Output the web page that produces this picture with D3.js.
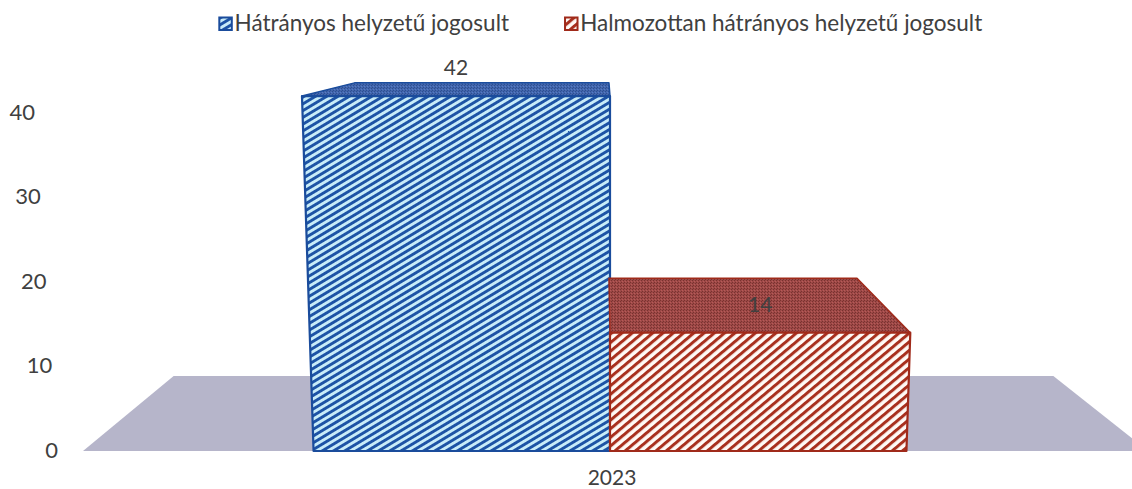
<!DOCTYPE html>
<html>
<head>
<meta charset="utf-8">
<script src="https://cdn.jsdelivr.net/npm/d3@7"></script>
<style>
    html, body { margin: 0; padding: 0; background: #ffffff; }
    svg { display: block; }
    text { font-family: Lato, "Open Sans", sans-serif; fill: #404040; }
</style>
</head>
<body>
<svg id="chart" width="1132" height="489"></svg>
<script>
'use strict';

/* global d3 */

var categories = ["2023"];
var seriesNames = ["Hátrányos helyzetű jogosult", "Halmozottan hátrányos helyzetű jogosult"];
var seriesValues = [[42], [14]];
var yTicks = [0, 10, 20, 30, 40];

var svg = d3.select("#chart");
var defs = svg.append("defs");

// colours for each series: stripe, background, top face, edge
var STYLES = [
    {id: "s0", stripe: "#1d53a5", light: "#c8ecf9", top: "#4466aa", topDark: "#2a4e96", edge: "#1a4c9c", angle: -31, period: 5.8, thick: 2.9},
    {id: "s1", stripe: "#a8301e", light: "#fffaf6", top: "#9c4a48", topDark: "#7c302e", edge: "#a02a1a", angle: -40, period: 6.6, thick: 3.0}
];

STYLES.forEach(function (st) {
    var p = defs.append("pattern")
        .attr("id", "stripe-" + st.id)
        .attr("patternUnits", "userSpaceOnUse")
        .attr("width", 10)
        .attr("height", st.period)
        .attr("patternTransform", "rotate(" + st.angle + ")");
    p.append("rect").attr("width", 10).attr("height", st.period).attr("fill", st.light);
    p.append("rect").attr("width", 10).attr("height", st.thick).attr("fill", st.stripe);

    var t = defs.append("pattern")
        .attr("id", "top-" + st.id)
        .attr("patternUnits", "userSpaceOnUse")
        .attr("width", 3)
        .attr("height", 3);
    t.append("rect").attr("width", 3).attr("height", 3).attr("fill", st.top);
    t.append("rect").attr("x", 0).attr("y", 0).attr("width", 1).attr("height", 1).attr("fill", st.topDark);
    t.append("rect").attr("x", 2).attr("y", 1).attr("width", 1).attr("height", 1).attr("fill", st.topDark);
    t.append("rect").attr("x", 1).attr("y", 2).attr("width", 1).attr("height", 1).attr("fill", d3.color(st.top).brighter(0.5));
});

// scales
var x = d3.scaleBand().domain(categories).range([83, 1137]).paddingInner(0.28).paddingOuter(0.28);
var xSeries = d3.scaleBand().domain(d3.range(seriesNames.length)).range([0, x.bandwidth()]);
var y = d3.scaleLinear().domain([0, 40]).range([451, 113]);

// perspective: front plane converges a bit downwards, depth goes to a vanishing point
var VP = [604, 20];
var DEPTH_K = 0.826;
var SKEW = 0.00011;
var CX = x(categories[0]) + x.bandwidth() / 2;
var baseY = y(0);

function front(px, v) {
    var py = y(v);
    return [CX + (px - CX) * (1 + SKEW * (baseY - py)), py];
}

function back(p) {
    return [VP[0] + DEPTH_K * (p[0] - VP[0]), VP[1] + DEPTH_K * (p[1] - VP[1])];
}

function poly(points) {
    return "M" + points.map(function (p) { return p[0] + "," + p[1]; }).join("L") + "Z";
}

// floor
var floorL = [x.range()[0], baseY];
var floorR = [1148, baseY];
svg.append("path")
    .attr("class", "floor")
    .attr("d", poly([floorL, floorR, back(floorR), back(floorL)]))
    .attr("fill", "#b6b5ca");

// y axis labels (they drift right as they go down)
svg.append("g").attr("class", "y-axis")
    .selectAll("text")
    .data(yTicks)
    .enter()
    .append("text")
    .attr("x", function (d) { return 58 - 0.068 * (baseY - y(d)); })
    .attr("y", function (d) { return y(d) + 1; })
    .attr("text-anchor", "end")
    .attr("dominant-baseline", "middle")
    .style("font-size", "22px")
    .text(function (d) { return d; });

// bars
var bars = [];
categories.forEach(function (cat, ci) {
    seriesNames.forEach(function (name, si) {
        var x0 = x(cat) + xSeries(si);
        bars.push({
            series: si,
            value: seriesValues[si][ci],
            x0: x0,
            x1: x0 + xSeries.bandwidth()
        });
    });
});

var gBars = svg.append("g").attr("class", "bars");

var gBar = gBars.selectAll("g.bar")
    .data(bars)
    .enter()
    .append("g")
    .attr("class", "bar");

gBar.append("path")
    .attr("class", "top")
    .attr("d", function (d) {
        var fl = front(d.x0, d.value), fr = front(d.x1, d.value);
        return poly([fl, fr, back(fr), back(fl)]);
    })
    .attr("fill", function (d) { return "url(#top-" + STYLES[d.series].id + ")"; })
    .attr("stroke", function (d) { return STYLES[d.series].edge; })
    .attr("stroke-width", 1.5)
    .attr("stroke-linejoin", "round");

gBar.append("path")
    .attr("class", "front")
    .attr("d", function (d) {
        return poly([front(d.x0, 0), front(d.x1, 0), front(d.x1, d.value), front(d.x0, d.value)]);
    })
    .attr("fill", function (d) { return "url(#stripe-" + STYLES[d.series].id + ")"; })
    .attr("stroke", function (d) { return STYLES[d.series].edge; })
    .attr("stroke-width", 2.2)
    .attr("stroke-linejoin", "round");

// value labels
gBar.append("text")
    .attr("class", "value")
    .attr("x", function (d) {
        return (front(d.x0, d.value)[0] + front(d.x1, d.value)[0]) / 2;
    })
    .attr("y", function (d) { return y(d.value) - 26; })
    .attr("text-anchor", "middle")
    .attr("dominant-baseline", "middle")
    .style("font-size", "21px")
    .text(function (d) { return d.value; });

// category label
svg.append("g").attr("class", "x-axis")
    .selectAll("text")
    .data(categories)
    .enter()
    .append("text")
    .attr("x", function (d) { return x(d) + x.bandwidth() / 2 + 2; })
    .attr("y", 480)
    .attr("text-anchor", "middle")
    .attr("dominant-baseline", "middle")
    .style("font-size", "21px")
    .text(function (d) { return d; });

// legend
var gLegend = svg.append("g").attr("class", "legend");
var legendItems = gLegend.selectAll("g.item")
    .data(seriesNames)
    .enter()
    .append("g")
    .attr("class", "item");

legendItems.append("rect")
    .attr("x", 0.75)
    .attr("y", -6.5)
    .attr("width", 12.5)
    .attr("height", 12.5)
    .attr("fill", function (d, i) { return "url(#stripe-" + STYLES[i].id + ")"; })
    .attr("stroke", function (d, i) { return STYLES[i].edge; })
    .attr("stroke-width", 2);

legendItems.append("text")
    .attr("x", 16)
    .attr("y", 1)
    .attr("dominant-baseline", "middle")
    .style("font-size", "22.5px")
    .text(function (d) { return d; });

var offsets = [];
var cursor = 0;
legendItems.each(function () {
    offsets.push(cursor);
    cursor += this.getBBox().width + 56;
});
cursor -= 56;
var legendStart = 600 - cursor / 2;
legendItems.attr("transform", function (d, i) {
    return "translate(" + (legendStart + offsets[i]) + ",24)";
});
</script>
</body>
</html>
